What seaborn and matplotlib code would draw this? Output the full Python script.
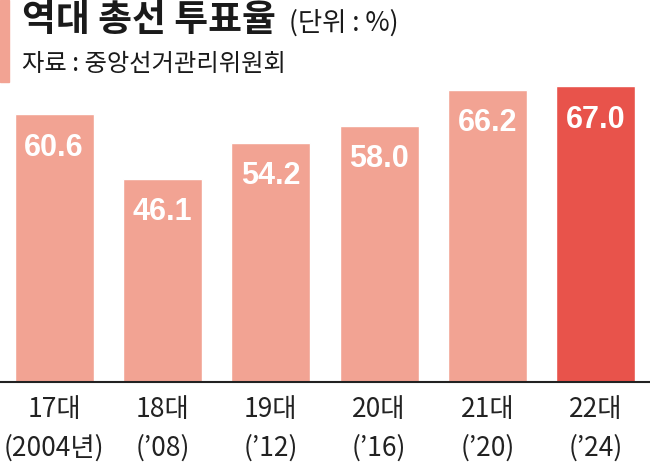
import matplotlib.pyplot as plt
import seaborn as sns
import pandas as pd
from matplotlib.patches import Rectangle

# 역대 총선 투표율 data
elections = ["17대", "18대", "19대", "20대", "21대", "22대"]
years = ["(2004년)", "(\u201908)", "(\u201912)", "(\u201916)", "(\u201920)", "(\u201924)"]
turnout = [60.6, 46.1, 54.2, 58.0, 66.2, 67.0]
bar_colors = ["#F2A393", "#F2A393", "#F2A393", "#F2A393", "#F2A393", "#E8534B"]

df = pd.DataFrame({"label": [e + "\n" + y for e, y in zip(elections, years)],
                   "turnout": turnout})

sns.set_style("white")
plt.rcParams["font.family"] = ["Noto Sans CJK KR", "DejaVu Sans"]

fig = plt.figure(figsize=(6.5, 4.72), dpi=100)
ax = fig.add_axes([0, 90 / 472, 1, 309 / 472])

sns.barplot(data=df, x="label", y="turnout", hue="label", palette=bar_colors,
            width=0.73, legend=False, ax=ax, saturation=1)

ax.set_ylim(0, 70)
ax.set_xlim(-0.5, 5.5)
ax.set_xlabel("")
ax.set_ylabel("")
ax.set_yticks([])
for s in ["top", "left", "right"]:
    ax.spines[s].set_visible(False)
ax.spines["bottom"].set_color("#222222")
ax.spines["bottom"].set_linewidth(1.5)
ax.tick_params(axis="x", length=0, pad=10)
for t in ax.get_xticklabels():
    t.set_fontsize(19)
    t.set_linespacing(1.55)
    t.set_color("#222222")

# value labels inside bars
for i, v in enumerate(turnout):
    ax.annotate(f"{v:.1f}", (i, v), xytext=(0, -24), textcoords="offset points",
                ha="center", va="center", color="white", fontsize=22,
                fontweight="bold", family=["Liberation Sans", "DejaVu Sans"])

# title block
fig.patches.append(Rectangle((0, 1 - 82 / 472), 9 / 650, 82 / 472,
                             transform=fig.transFigure, color="#F2A393"))
fig.text(22 / 650, 1 - 21 / 472, "역대 총선 투표율", fontsize=26.5, fontweight="black",
         va="center", ha="left", color="#1a1a1a")
fig.text(289 / 650, 1 - 23 / 472, "(단위 : %)", fontsize=19, va="center",
         ha="left", color="#1a1a1a")
fig.text(22 / 650, 1 - 64 / 472, "자료 : 중앙선거관리위원회", fontsize=17.5,
         va="center", ha="left", color="#1a1a1a")

plt.savefig("out.png", dpi=100)
plt.close()
